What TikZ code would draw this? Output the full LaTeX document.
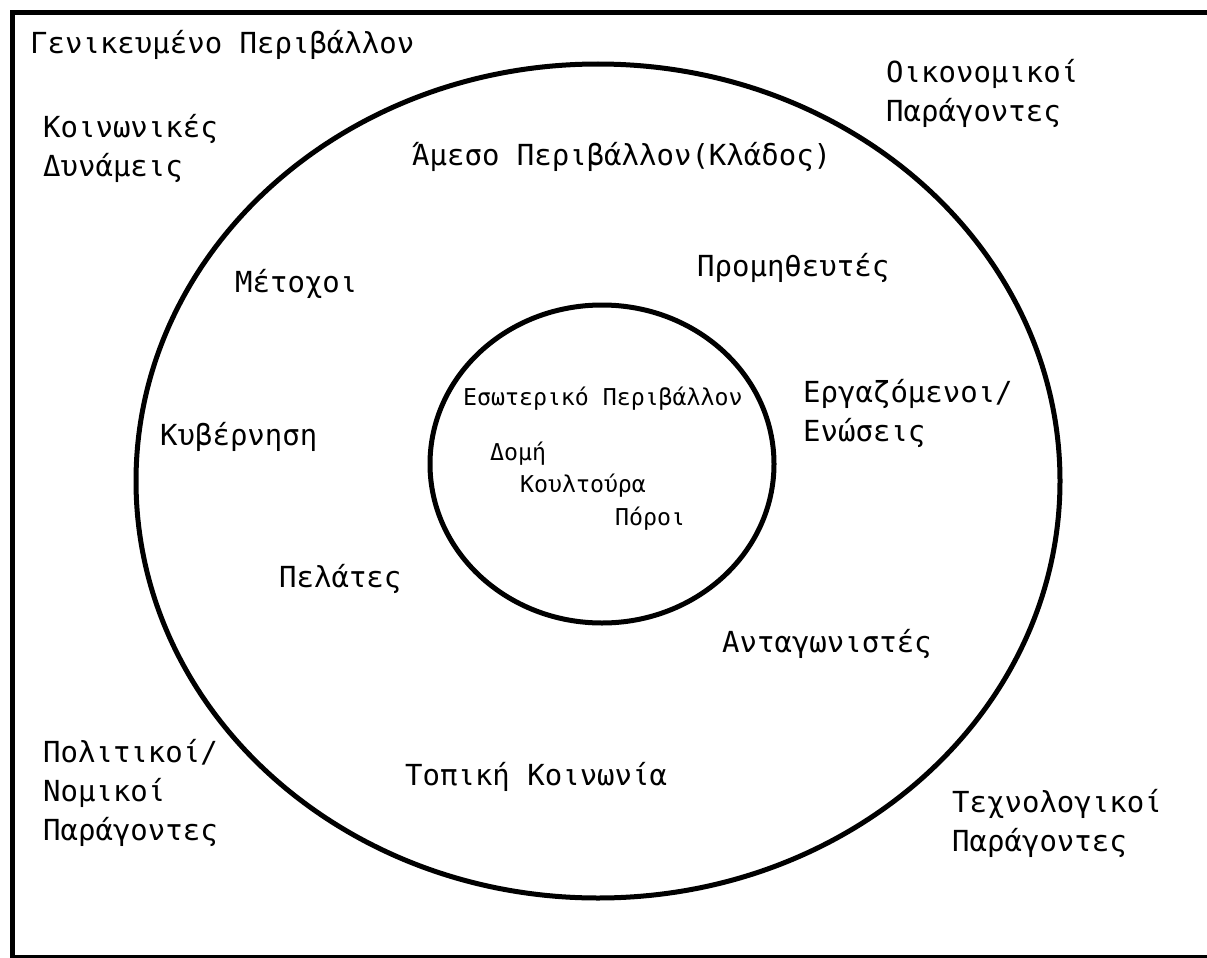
\documentclass[tikz,border=0pt]{standalone}
\usepackage{fontspec}
\setmonofont{DejaVu Sans Mono}
\usetikzlibrary{shapes.geometric}
\begin{document}
\begin{tikzpicture}[x=1pt,y=-1pt,
  lbl/.style={anchor=base west, inner sep=0pt, align=left,
    font=\ttfamily\fontsize{29}{39}\selectfont},
  small/.style={anchor=base west, inner sep=0pt,
    font=\ttfamily\fontsize{23.2}{30}\selectfont},
  ring/.style={draw=black, line width=5pt, ellipse, inner sep=0pt}]
  \useasboundingbox (0,0) rectangle (1207,958);
  \clip (0,0) rectangle (1207,958);
  \fill[white] (0,0) rectangle (1207,958);
  % outer frame (right side runs past the page edge)
  \draw[line width=5pt] (12.5,12.5) rectangle (1215,957.5);
  % environment rings
  \node[ring, minimum width=924pt, minimum height=834pt] (outer) at (598,481) {};
  \node[ring, minimum width=344pt, minimum height=318pt] (inner) at (602,464) {};
  % general environment (multi-line labels sit on their last baseline)
  \node[lbl] (gen) at (30,53) {Γενικευμένο Περιβάλλον};
  \node[lbl] (soc) at (43,176) {Κοινωνικές\\Δυνάμεις};
  \node[lbl] (eco) at (886,121) {Οικονομικοί\\Παράγοντες};
  \node[lbl] (pol) at (43,840) {Πολιτικοί/\\Νομικοί\\Παράγοντες};
  \node[lbl] (tech) at (952,851) {Τεχνολογικοί\\Παράγοντες};
  % task environment
  \node[lbl] (task) at (412,165) {Άμεσο Περιβάλλον(Κλάδος)};
  \node[lbl] (share) at (235,292) {Μέτοχοι};
  \node[lbl] (supp) at (697,276) {Προμηθευτές};
  \node[lbl] (lab) at (803,441) {Εργαζόμενοι/\\Ενώσεις};
  \node[lbl] (gov) at (160,445) {Κυβέρνηση};
  \node[lbl] (cust) at (279,587) {Πελάτες};
  \node[lbl] (comp) at (722,652) {Ανταγωνιστές};
  \node[lbl] (comm) at (405,785) {Τοπική Κοινωνία};
  % internal environment
  \node[small] (int) at (463,405) {Εσωτερικό Περιβάλλον};
  \node[small] (str) at (490,460) {Δομή};
  \node[small] (cul) at (520,492) {Κουλτούρα};
  \node[small] (res) at (615,525) {Πόροι};
\end{tikzpicture}
\end{document}
